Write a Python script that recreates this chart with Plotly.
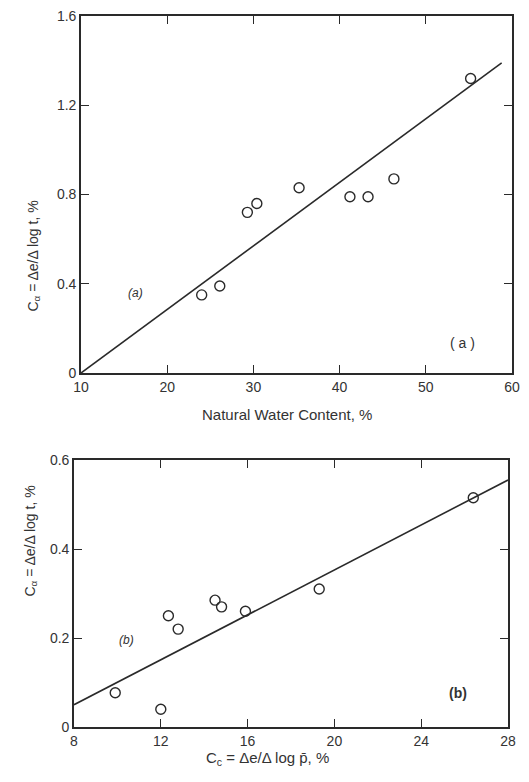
import plotly.graph_objects as go

# ---- data ----
water_content = [24.0, 26.1, 29.3, 30.4, 35.3, 41.2, 43.3, 46.3, 55.2]
c_alpha_a = [0.35, 0.39, 0.72, 0.76, 0.83, 0.79, 0.79, 0.87, 1.32]
fit_a_x = [10, 58.8]
fit_a_y = [0.0, 1.39]

c_c = [9.9, 12.0, 12.35, 12.8, 14.5, 14.8, 15.9, 19.3, 26.4]
c_alpha_b = [0.077, 0.04, 0.25, 0.22, 0.285, 0.27, 0.26, 0.31, 0.515]
fit_b_x = [8, 28]
fit_b_y = [0.05, 0.555]

x_ticks_a = [10, 20, 30, 40, 50, 60]
y_ticks_a = [0, 0.4, 0.8, 1.2, 1.6]
y_labels_a = ["0", "0.4", "0.8", "1.2", "1.6"]
x_ticks_b = [8, 12, 16, 20, 24, 28]
y_ticks_b = [0, 0.2, 0.4, 0.6]
y_labels_b = ["0", "0.2", "0.4", "0.6"]

PAGE_W, PAGE_H = 529, 782
OFF = 8  # default body margin of the page
W, H = PAGE_W - OFF, PAGE_H - OFF
INK = "#2a2a2a"
FONT = "Liberation Sans"

fig = go.Figure()

marker = dict(symbol="circle-open", size=10, color=INK, line=dict(width=1.4, color=INK))

fig.add_trace(go.Scatter(x=fit_a_x, y=fit_a_y, mode="lines", line=dict(color=INK, width=1.6),
                         xaxis="x", yaxis="y", showlegend=False, hoverinfo="skip"))
fig.add_trace(go.Scatter(x=water_content, y=c_alpha_a, mode="markers", marker=marker,
                         xaxis="x", yaxis="y", showlegend=False))
fig.add_trace(go.Scatter(x=fit_b_x, y=fit_b_y, mode="lines", line=dict(color=INK, width=1.6),
                         xaxis="x2", yaxis="y2", showlegend=False, hoverinfo="skip"))
fig.add_trace(go.Scatter(x=c_c, y=c_alpha_b, mode="markers", marker=marker,
                         xaxis="x2", yaxis="y2", showlegend=False))

def fx(p):
    return (p - OFF) / W

def fy(p):
    return 1 - (p - OFF) / H

def px_dom_x(a, b):
    return [fx(a), fx(b)]

def px_dom_y(top, bottom):
    return [fy(bottom), fy(top)]

axis_common = dict(showline=True, linecolor=INK, linewidth=1.6, mirror="ticks",
                   ticks="inside", ticklen=8, tickwidth=1.4, tickcolor=INK,
                   showgrid=False, zeroline=False, fixedrange=True, automargin=False,
                   ticklabeloverflow="allow",
                   tickfont=dict(family=FONT, size=14, color="#333"))

fig.update_layout(
    width=W, height=H,
    margin=dict(l=0, r=0, t=0, b=0, autoexpand=False),
    paper_bgcolor="white", plot_bgcolor="white",
    xaxis=dict(domain=px_dom_x(81, 512), range=[10, 60], tickvals=x_ticks_a,
               anchor="y", **axis_common),
    yaxis=dict(domain=px_dom_y(16, 373), range=[0, 1.6], tickvals=y_ticks_a,
               ticktext=y_labels_a, anchor="x", **axis_common),
    xaxis2=dict(domain=px_dom_x(74, 508), range=[8, 28], tickvals=x_ticks_b,
                anchor="y2", **axis_common),
    yaxis2=dict(domain=px_dom_y(460, 727), range=[0, 0.6], tickvals=y_ticks_b,
                ticktext=y_labels_b, anchor="x2", **axis_common),
)

title_font = dict(family=FONT, size=14, color="#333")
ann = []
# axis titles
ann.append(dict(text="Natural Water Content, %", x=fx(287), y=fy(414), xref="paper", yref="paper",
                showarrow=False, font=dict(family=FONT, size=15, color="#333")))
ann.append(dict(text="C<sub>α</sub> = Δe/Δ log t, %", x=fx(22), y=fy(199), xref="paper", yref="paper",
                showarrow=False, textangle=-90, font=title_font))
ann.append(dict(text="C<sub>c</sub> = Δe/Δ log p̄, %", x=fx(267), y=fy(770), xref="paper", yref="paper",
                showarrow=False, font=dict(family=FONT, size=15, color="#333")))
ann.append(dict(text="C<sub>α</sub> = Δe/Δ log t, %", x=fx(19), y=fy(599), xref="paper", yref="paper",
                showarrow=False, textangle=-90, font=title_font))
# panel labels
ann.append(dict(text="<i>(a)</i>", x=16.3, y=0.36, xref="x", yref="y", showarrow=False,
                font=dict(family=FONT, size=12, color="#333")))
ann.append(dict(text="( a )", x=54.3, y=0.134, xref="x", yref="y", showarrow=False,
                font=dict(family=FONT, size=14, color="#333")))
ann.append(dict(text="<i>(b)</i>", x=10.4, y=0.195, xref="x2", yref="y2", showarrow=False,
                font=dict(family=FONT, size=12, color="#333")))
ann.append(dict(text="<b>(b)</b>", x=25.7, y=0.077, xref="x2", yref="y2", showarrow=False,
                font=dict(family=FONT, size=14, color="#333")))
fig.update_layout(annotations=ann)

fig.write_html("out.html")
